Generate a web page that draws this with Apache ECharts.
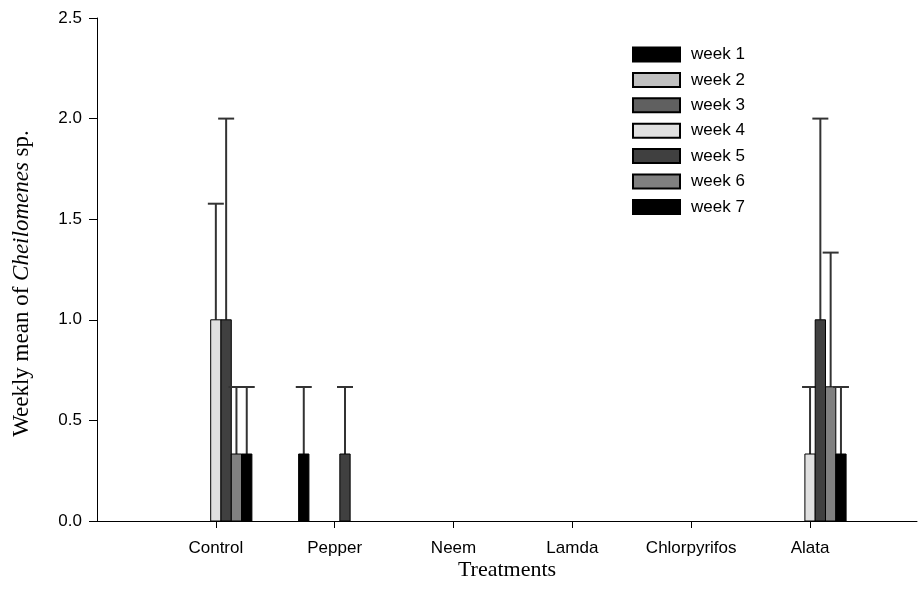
<!DOCTYPE html>
<html>
<head>
<meta charset="utf-8">
<script src="https://cdn.jsdelivr.net/npm/echarts@6/dist/echarts.min.js"></script>
<style>
  html, body { margin: 0; padding: 0; background: #fff; }
  #chart { width: 918px; height: 602px; }
</style>
</head>
<body>
<div id="chart"></div>
<script>
// treatments on the x axis (positions 1..6)
var treatments = ['Control', 'Pepper', 'Neem', 'Lamda', 'Chlorpyrifos', 'Alata'];
var weeks = ['week 1', 'week 2', 'week 3', 'week 4', 'week 5', 'week 6', 'week 7'];
var weekColors = ['#000000', '#c0c0c0', '#606060', '#e0e0e0', '#404040', '#808080', '#000000'];

// weekly means, one array per week, in treatment order
var meanW1 = [0, 0.333, 0, 0, 0, 0];
var meanW2 = [0, 0, 0, 0, 0, 0];
var meanW3 = [0, 0, 0, 0, 0, 0];
var meanW4 = [1.0, 0, 0, 0, 0, 0.333];
var meanW5 = [1.0, 0.333, 0, 0, 0, 1.0];
var meanW6 = [0.333, 0, 0, 0, 0, 0.667];
var meanW7 = [0.333, 0, 0, 0, 0, 0.333];

// upper error (SE) per week
var errW1 = [0, 0.333, 0, 0, 0, 0];
var errW2 = [0, 0, 0, 0, 0, 0];
var errW3 = [0, 0, 0, 0, 0, 0];
var errW4 = [0.577, 0, 0, 0, 0, 0.333];
var errW5 = [1.0, 0.333, 0, 0, 0, 1.0];
var errW6 = [0.333, 0, 0, 0, 0, 0.667];
var errW7 = [0.333, 0, 0, 0, 0, 0.333];

var yTicks = [0, 0.5, 1.0, 1.5, 2.0, 2.5];

var means = [meanW1, meanW2, meanW3, meanW4, meanW5, meanW6, meanW7];
var errs = [errW1, errW2, errW3, errW4, errW5, errW6, errW7];

var barFrac = 0.0867; // bar width as fraction of one treatment step
var sans = "'Liberation Sans', Arial, sans-serif";
var serif = "'Liberation Serif', 'Times New Roman', serif";

function makeRender(k) {
  return function (params, api) {
    var x = api.value(0), v = api.value(1), e = api.value(2);
    var children = [];
    var step = api.size([1, 0])[0];
    var w = step * barFrac;
    var base = api.coord([x, 0]);
    var top = api.coord([x, v]);
    var cx = base[0] + (k - 3) * w;
    if (e > 0) {
      var hi = api.coord([x, v + e]);
      var ls = { stroke: '#333', lineWidth: 2 };
      children.push({ type: 'line', shape: { x1: cx, y1: top[1], x2: cx, y2: hi[1] }, style: ls });
      children.push({ type: 'line', shape: { x1: cx - 8, y1: hi[1], x2: cx + 8, y2: hi[1] }, style: ls });
    }
    if (v > 0) {
      children.push({
        type: 'rect',
        shape: { x: cx - w / 2, y: top[1], width: w, height: base[1] - top[1] },
        style: { fill: weekColors[k], stroke: '#000', lineWidth: 1 }
      });
    }
    return { type: 'group', children: children };
  };
}

var series = weeks.map(function (name, k) {
  return {
    name: name,
    type: 'custom',
    renderItem: makeRender(k),
    itemStyle: { color: weekColors[k], borderColor: '#000', borderWidth: 1 },
    encode: { x: 0, y: 1 },
    data: treatments.map(function (t, i) { return [i + 1, means[k][i], errs[k][i]]; })
  };
});

var chart = echarts.init(document.getElementById('chart'));
chart.setOption({
  animation: false,
  backgroundColor: '#fff',
  grid: { left: 97, right: 1, top: 18, bottom: 81 },
  legend: {
    orient: 'vertical',
    left: 627,
    top: 41,
    icon: 'rect',
    itemWidth: 47,
    itemHeight: 14,
    itemGap: 8.4,
    data: weeks,
    textStyle: { fontFamily: sans, fontSize: 17, color: '#000', padding: [0, 0, 0, 6] }
  },
  xAxis: {
    type: 'value',
    min: 0,
    max: 6.9,
    interval: 1,
    name: 'Treatments',
    nameLocation: 'middle',
    nameGap: 38,
    nameMoveOverlap: false,
    nameTextStyle: { fontFamily: serif, fontSize: 22, color: '#000' },
    splitLine: { show: false },
    axisLine: { lineStyle: { color: '#000', width: 1 } },
    axisTick: { show: true, length: 7, customValues: [1, 2, 3, 4, 5, 6], lineStyle: { color: '#000' } },
    axisLabel: {
      customValues: [1, 2, 3, 4, 5, 6],
      margin: 19,
      fontFamily: sans,
      fontSize: 17,
      color: '#000',
      formatter: function (v) { return treatments[Math.round(v) - 1] || ''; }
    }
  },
  yAxis: {
    type: 'value',
    min: 0,
    max: 2.5,
    interval: 0.5,
    name: '{a|Weekly mean of }{b|Cheilomenes}{a| sp.}',
    nameLocation: 'middle',
    nameGap: 64,
    nameMoveOverlap: false,
    nameTextStyle: {
      padding: [0, 28, 0, 0],
      rich: {
        a: { fontFamily: serif, fontSize: 23, color: '#000' },
        b: { fontFamily: serif, fontSize: 23, fontStyle: 'italic', color: '#000' }
      }
    },
    splitLine: { show: false },
    axisLine: { show: true, lineStyle: { color: '#000', width: 1 } },
    axisTick: { show: true, inside: false, length: 8, lineStyle: { color: '#000' } },
    axisLabel: {
      customValues: yTicks,
      margin: 15,
      fontFamily: sans,
      fontSize: 17,
      color: '#000',
      formatter: function (v) { return v.toFixed(1); }
    }
  },
  series: series
});
</script>
</body>
</html>
